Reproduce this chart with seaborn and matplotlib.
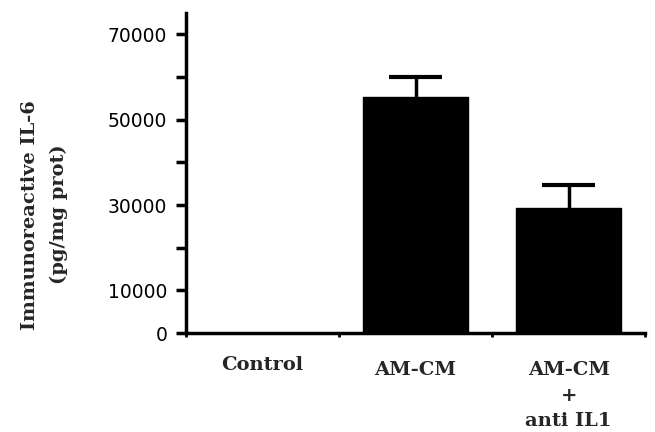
import matplotlib
matplotlib.use("Agg")
import matplotlib.pyplot as plt
import seaborn as sns
import pandas as pd
import numpy as np

categories = ["Control", "AM-CM", "AM-CM\n+\nanti IL1"]
values = [0, 55300, 29300]
errors = [0, 4700, 5400]
ytick_values = [0, 10000, 30000, 50000, 70000]
ytick_minor = [20000, 40000, 60000]

sns.set_theme(style="white")
plt.rcParams['font.family'] = ['DejaVu Sans']

df = pd.DataFrame({"group": categories, "value": values})

fig = plt.figure(figsize=(6.55, 4.32), dpi=100)
ax = fig.add_axes([0.284, 0.229, 0.701, 0.741])

sns.barplot(data=df, x="group", y="value", color="black", width=0.69,
            saturation=1, ax=ax, errorbar=None)
for p in ax.patches:
    p.set_edgecolor("black")

xs = np.arange(len(categories))
vals = np.array(values)
errs = np.array(errors)
mask = errs > 0
tops = vals + errs
ax.vlines(xs[mask], vals[mask], tops[mask], color="black", linewidth=2.5, zorder=3)
ax.hlines(tops[mask], xs[mask] - 0.175, xs[mask] + 0.175, color="black",
          linewidth=3, zorder=3)

ax.set_ylim(0, 75000)
ax.set_xlim(-0.5, 2.5)

ax.set_yticks(ytick_values)
ax.set_yticklabels([str(v) for v in ytick_values], fontsize=13.5, color="black")
ax.set_yticks(ytick_minor, minor=True)
ax.tick_params(axis="y", which="both", direction="out", length=7, width=2.5,
               color="black", left=True, pad=6.5)

ax.set_xticks(xs)
ax.set_xticklabels(categories, fontsize=14, fontweight="heavy",
                   family="DejaVu Serif", linespacing=1.55, va="top")
ax.tick_params(axis="x", which="major", length=0, pad=20)
ax.set_xticks([-0.5, 0.5, 1.5, 2.5], minor=True)
ax.tick_params(axis="x", which="minor", direction="out", length=3, width=2,
               color="black", bottom=True)

for lbl in ax.get_xticklabels():
    if lbl.get_text() == "Control":
        lbl.set_y(0.016)

ax.set_xlabel("")
ax.set_ylabel("Immunoreactive IL-6\n(pg/mg prot)", fontsize=14, fontweight="heavy",
              family="DejaVu Serif", linespacing=1.75)
ax.yaxis.set_label_coords(-0.258, 0.37)

for side in ["top", "right"]:
    ax.spines[side].set_visible(False)
for side in ["left", "bottom"]:
    ax.spines[side].set_linewidth(2.5)
    ax.spines[side].set_color("black")

fig.savefig("out.png", dpi=100, facecolor="white")
